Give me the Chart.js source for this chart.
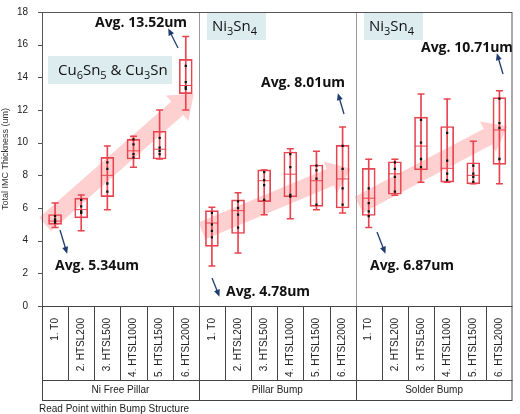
<!DOCTYPE html>
<html><head><meta charset="utf-8">
<script src="https://cdn.jsdelivr.net/npm/chart.js@4"></script>
<style>html,body{margin:0;padding:0;background:#fff}#w{width:520px;height:414px}</style>
</head><body><div id="w"><canvas id="c"></canvas></div>
<script>
const categories=["1. T0","2. HTSL200","3. HTSL500","4. HTSL1000","5. HTSL1500","6. HTSL2000","1. T0","2. HTSL200","3. HTSL500","4. HTSL1000","5. HTSL1500","6. HTSL2000","1. T0","2. HTSL200","3. HTSL500","4. HTSL1000","5. HTSL1500","6. HTSL2000"];
const groups=["Ni Free Pillar","Pillar Bump","Solder Bump"];
const yTicks=[0,2,4,6,8,10,12,14,16,18];
const whiskLo=[4.8,4.6,5.9,8.5,9.0,12.0, 2.45,3.25,5.58,5.34,5.9,5.7, 4.8,6.78,7.58,7.58,7.48,7.48];
const whiskHi=[6.3,6.8,9.8,10.4,12.0,16.5, 6.04,6.94,8.33,9.63,9.47,10.96, 8.99,8.99,12.98,12.68,10.09,13.18];
const q1=[5.0,5.4,6.7,9.0,9.0,13.0, 3.65,4.44,6.39,6.68,6.1,6.0, 5.54,6.84,8.33,7.58,7.48,8.67];
const q3=[5.6,6.6,9.1,10.2,10.7,15.1, 5.84,6.5,8.33,9.43,8.63,9.83, 8.43,8.83,11.56,10.99,8.77,12.76];
const median=[5.2,5.9,8.0,9.5,9.6,13.5, 5.08,5.84,7.67,8.07,7.67,7.78, 6.6,8.09,9.79,8.43,8.0,10.78];
const ptsA=[5.3,6.5,8.8,10.2,10.3,14.7, 5.7,6.4,8.2,9.3,8.6,9.8, 7.2,8.8,11.4,10.6,8.6,12.7];
const ptsB=[5.1,6.1,8.4,9.9,9.7,13.7, 5.0,6.0,7.4,8.5,8.3,8.4, 6.3,8.4,10.0,8.9,8.1,11.2];
const ptsC=[5.5,5.8,7.5,9.3,9.5,13.3, 4.6,4.8,6.5,6.8,7.8,7.2, 5.8,7.9,9.0,8.1,7.9,10.9];
const ptsD=[5.2,5.7,7.0,9.1,9.3,13.4, 4.2,5.6,7.7,6.7,6.2,6.2, 5.5,7.0,8.5,7.7,7.6,9.0];
const annots=[{t:"Avg. 13.52um",x:95,y:23,ax1:178,ay1:48,ax2:170,ay2:32},{t:"Avg. 5.34um",x:55,y:266,ax1:60,ay1:230,ax2:66,ay2:250},
{t:"Avg. 4.78um",x:226,y:292,ax1:212,ay1:278,ax2:218,ay2:293},{t:"Avg. 8.01um",x:261,y:83,ax1:344,ay1:114,ax2:339,ay2:97},
{t:"Avg. 6.87um",x:370,y:266,ax1:377,ay1:232,ax2:384,ay2:250},{t:"Avg. 10.71um",x:421,y:48,ax1:503,ay1:74,ax2:498,ay2:57}];
const arrows=[[0,5.0,5,13.0],[6,4.6,11,8.4],[12,6.2,17,11.0]];
const RED='#e84450';
function pts(d){return {type:'line',data:d,showLine:false,pointStyle:'rect',pointRadius:1.6,pointBackgroundColor:'#111',pointBorderColor:'#111',pointBorderWidth:0};}
const deco={id:'deco',
beforeDatasetsDraw(ch){const c=ch.ctx,x=ch.scales.x,y=ch.scales.y;c.save();
 c.fillStyle='rgba(255,150,150,0.45)';
 arrows.forEach(a=>{const x1=x.getPixelForValue(a[0])-10,y1=y.getPixelForValue(a[1]),x2=x.getPixelForValue(a[2])+8,y2=y.getPixelForValue(a[3]);
  const ang=Math.atan2(y2-y1,x2-x1),L=Math.hypot(x2-x1,y2-y1),w=9,hw=17,hl=22;
  c.save();c.translate(x1,y1);c.rotate(ang);c.beginPath();c.moveTo(0,-w);c.lineTo(L-hl,-w);c.lineTo(L-hl,-hw);c.lineTo(L,0);c.lineTo(L-hl,hw);c.lineTo(L-hl,w);c.lineTo(0,w);c.closePath();c.fill();c.restore();});
 c.strokeStyle='#999';c.lineWidth=1;
 [5.5,11.5].forEach(v=>{const px=Math.round(x.getPixelForValue(v))+0.5;c.beginPath();c.moveTo(px,y.top);c.lineTo(px,y.bottom);c.stroke();});
 c.fillStyle='#dcecef';c.fillRect(48,56,124,28);c.fillRect(207,12,59,28);c.fillRect(364,12,59,28);
 c.fillStyle='#111';c.textBaseline='alphabetic';
 function sub(parts,x0,yb){let xx=x0;parts.forEach(p=>{c.font=p[1]?'11px "Open Sans"':'15px "Open Sans"';c.fillText(p[0],xx,yb+(p[1]?4:0));xx+=c.measureText(p[0]).width;});}
 sub([["Cu",0],["6",1],["Sn",0],["5",1],[" & Cu",0],["3",1],["Sn",0]],58,75);
 sub([["Ni",0],["3",1],["Sn",0],["4",1]],212,31);
 sub([["Ni",0],["3",1],["Sn",0],["4",1]],369,31);
 c.restore();},
afterDatasetsDraw(ch){const c=ch.ctx,x=ch.scales.x,y=ch.scales.y;c.save();
 c.fillStyle='#111';c.font='bold 14px "Open Sans"';c.textBaseline='middle';
 annots.forEach(a=>{c.fillText(a.t,a.x,a.y);c.strokeStyle='#1f3a6e';c.fillStyle='#1f3a6e';c.lineWidth=1.3;c.beginPath();c.moveTo(a.ax1,a.ay1);c.lineTo(a.ax2,a.ay2);c.stroke();
  const ang=Math.atan2(a.ay2-a.ay1,a.ax2-a.ax1);c.beginPath();c.moveTo(a.ax2+4*Math.cos(ang),a.ay2+4*Math.sin(ang));c.lineTo(a.ax2-3*Math.cos(ang)+3*Math.sin(ang),a.ay2-3*Math.sin(ang)-3*Math.cos(ang));c.lineTo(a.ax2-3*Math.cos(ang)-3*Math.sin(ang),a.ay2-3*Math.sin(ang)+3*Math.cos(ang));c.closePath();c.fill();c.fillStyle='#111';});
 c.strokeStyle='#555';c.lineWidth=1;c.strokeRect(x.left+0.5,y.top+0.5,x.right-x.left-1,y.bottom-y.top);
 yTicks.forEach(v=>{const py=Math.round(y.getPixelForValue(v))+0.5;c.beginPath();c.moveTo(x.left-4,py);c.lineTo(x.left,py);c.stroke();});
 const b=y.bottom,cb=b+74,gb=cb+20;c.strokeStyle='#444';
 c.strokeRect(x.left+0.5,b+0.5,x.right-x.left-1,gb-b);
 c.beginPath();c.moveTo(x.left,cb+0.5);c.lineTo(x.right,cb+0.5);c.stroke();
 for(let i=1;i<categories.length;i++){const px=Math.round(x.getPixelForValue(i-0.5))+0.5;c.beginPath();c.moveTo(px,b);c.lineTo(px,(i%6===0)?gb:cb);c.stroke();}
 c.font='10px Arial';c.textAlign='center';c.textBaseline='middle';c.fillStyle='#222';
 groups.forEach((g,i)=>{const px=(x.getPixelForValue(i*6-0.5)+x.getPixelForValue(i*6+5.5))/2;c.fillText(g,px,cb+10);});
 c.textAlign='left';c.fillText("Read Point within Bump Structure",x.left-3,gb+9);
 c.restore();}};
new Chart(document.getElementById('c'),{
 data:{labels:categories,datasets:[
  {type:'bar',data:categories.map((_,i)=>[whiskLo[i],whiskHi[i]]),backgroundColor:RED,barThickness:1,grouped:false,order:5},
  {type:'bar',data:categories.map((_,i)=>[q1[i],q3[i]]),backgroundColor:'rgba(255,255,255,0)',borderColor:RED,borderWidth:1,borderSkipped:false,barThickness:13,grouped:false,order:4},
  {type:'line',data:median,showLine:false,pointStyle:'line',pointRadius:6.5,borderColor:RED,pointBorderWidth:1,order:3},
  {type:'line',data:whiskLo,showLine:false,pointStyle:'line',pointRadius:3.5,borderColor:RED,pointBorderWidth:1.5,order:3},
  {type:'line',data:whiskHi,showLine:false,pointStyle:'line',pointRadius:3.5,borderColor:RED,pointBorderWidth:1.5,order:3},
  Object.assign(pts(ptsA),{order:1}),Object.assign(pts(ptsB),{order:1}),Object.assign(pts(ptsC),{order:1}),Object.assign(pts(ptsD),{order:1})
 ]},
 options:{responsive:true,maintainAspectRatio:false,animation:false,
  layout:{padding:{top:5,right:2,left:0,bottom:0}},
  plugins:{legend:{display:false},tooltip:{enabled:false}},
  scales:{
   x:{type:'category',offset:true,grid:{display:false},border:{display:false},
    ticks:{minRotation:90,maxRotation:90,autoSkip:false,padding:4,color:'#222',font:{size:10,family:'Arial'}},
    afterFit(s){s.height=108;}},
   y:{min:0,max:18,afterBuildTicks(s){s.ticks=yTicks.map(v=>({value:v}));},
    grid:{display:false},border:{display:false},
    ticks:{color:'#222',font:{size:10,family:'Arial'},padding:6},
    title:{display:true,text:'Total IMC Thickness (um)',color:'#333',font:{size:9,family:'Arial'},padding:0},
    afterFit(s){s.width=42;}}
  }},
 plugins:[deco]});
</script></body></html>
